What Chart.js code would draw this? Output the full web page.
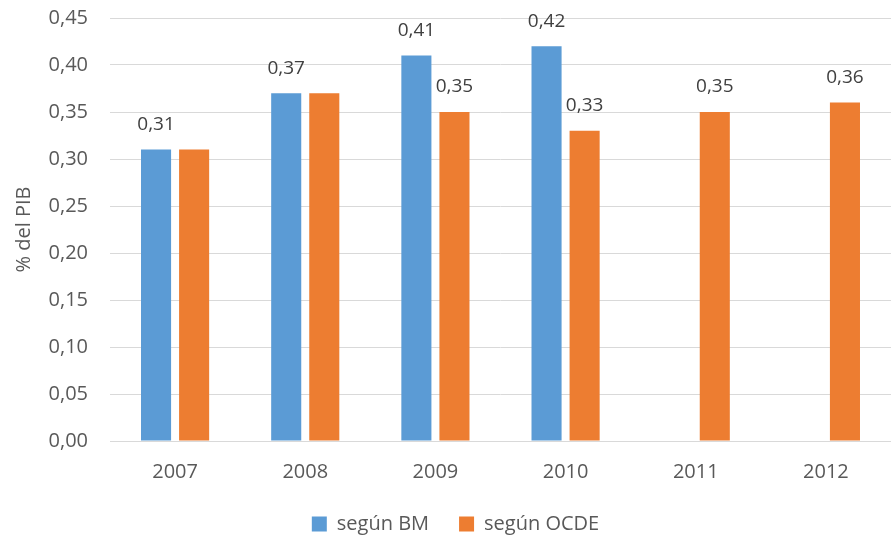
<!DOCTYPE html>
<html>
<head>
<meta charset="utf-8">
<script src="https://cdn.jsdelivr.net/npm/chart.js@4.4.1/dist/chart.umd.min.js"></script>
<style>
  html, body { margin: 0; padding: 0; background: #ffffff; }
  #wrap { width: 891px; height: 538px; }
</style>
</head>
<body>
<div id="wrap"><canvas id="c" width="891" height="538"></canvas></div>
<script>
// Categories and series
const years = ['2007', '2008', '2009', '2010', '2011', '2012'];
const segunBM = [0.31, 0.37, 0.41, 0.42, null, null];
const segunOCDE = [0.31, 0.37, 0.35, 0.33, 0.35, 0.36];

// Which bars carry a value label
const labelBM = [true, true, true, true, false, false];
const labelOCDE = [false, false, true, true, true, true];

const FONT = '"Open Sans", "DejaVu Sans", sans-serif';
const fmt = v => v.toFixed(2).replace('.', ',');

// Draws value labels above the flagged bars
const valueLabels = {
  id: 'valueLabels',
  afterDatasetsDraw(chart) {
    const ctx = chart.ctx;
    const flags = [labelBM, labelOCDE];
    ctx.save();
    ctx.font = '19px ' + FONT;
    ctx.fillStyle = '#404040';
    ctx.textAlign = 'center';
    ctx.textBaseline = 'middle';
    chart.data.datasets.forEach((ds, di) => {
      const meta = chart.getDatasetMeta(di);
      meta.data.forEach((bar, i) => {
        const v = ds.data[i];
        if (v == null || !flags[di][i]) return;
        ctx.fillText(fmt(v), bar.x, bar.y - 25);
      });
    });
    ctx.restore();
  }
};

// Nudges the legend a little to the right, under the plot area
const legendShift = {
  id: 'legendShift',
  afterLayout(chart) {
    if (chart.legend) {
      chart.legend.left += 10;
      chart.legend.right += 10;
    }
  }
};

new Chart(document.getElementById('c'), {
  type: 'bar',
  data: {
    labels: years,
    datasets: [
      { label: 'según BM', data: segunBM, backgroundColor: '#5b9bd5', borderWidth: 0 },
      { label: 'según OCDE', data: segunOCDE, backgroundColor: '#ed7d31', borderWidth: 0 }
    ]
  },
  options: {
    responsive: false,
    animation: false,
    devicePixelRatio: 1,
    layout: { padding: { top: 18, right: 0, left: 0, bottom: -6 } },
    datasets: { bar: { categoryPercentage: 0.585, barPercentage: 0.79 } },
    scales: {
      x: {
        grid: { display: false, drawTicks: false },
        border: { display: true, color: '#d9d9d9', width: 1 },
        ticks: { color: '#595959', font: { family: FONT, size: 20 }, padding: 19 },
        afterFit(scale) { scale.height = 43; }
      },
      y: {
        min: 0, max: 0.45,
        grid: { color: '#d9d9d9', lineWidth: 1, drawTicks: false },
        border: { display: false },
        ticks: {
          stepSize: 0.05,
          color: '#595959',
          font: { family: FONT, size: 20 },
          padding: 22,
          callback: v => fmt(v)
        },
        title: {
          display: true, text: '% del PIB', color: '#595959',
          font: { family: FONT, size: 20 }, padding: { top: 12, bottom: 6 }
        },
        afterFit(scale) {
          scale.width = 110;
          scale.paddingTop = 0;
          scale.paddingBottom = 0;
        }
      }
    },
    plugins: {
      legend: {
        position: 'bottom',
        labels: {
          color: '#595959',
          font: { family: FONT, size: 20 },
          boxWidth: 15, boxHeight: 15,
          padding: 30
        }
      },
      tooltip: { enabled: false }
    }
  },
  plugins: [valueLabels, legendShift]
});
</script>
</body>
</html>
